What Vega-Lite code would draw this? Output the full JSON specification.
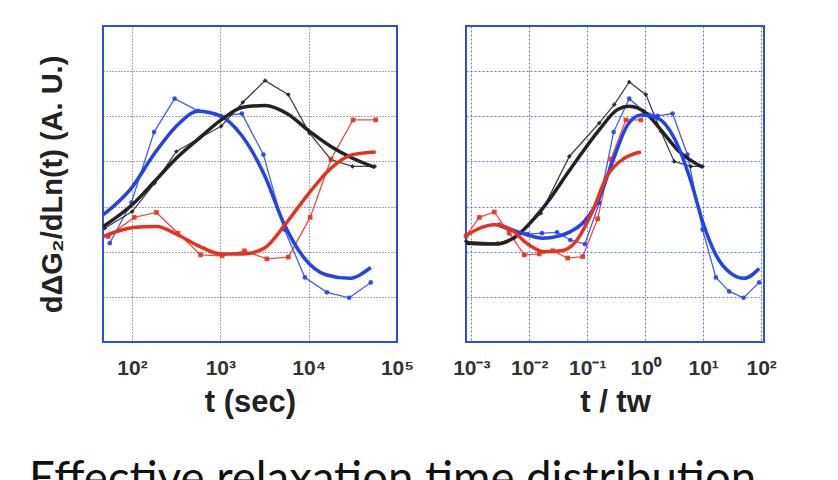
{
  "$schema": "https://vega.github.io/schema/vega-lite/v6.json",
  "background": "white",
  "padding": {"left": 29, "top": 25, "right": 0, "bottom": 0},
  "bounds": "flush",
  "spacing": 69,
  "config": {
    "view": {"stroke": "#2f4ee6", "strokeWidth": 2},
    "font": "Liberation Sans",
    "axis": {"labelFont": "Liberation Sans", "titleFont": "Liberation Sans"}
  },
  "title": {
    "text": "Effective relaxation time distribution",
    "orient": "bottom",
    "anchor": "start",
    "font": "Lato",
    "fontSize": 45.5,
    "fontWeight": "normal",
    "color": "#111111",
    "offset": 40,
    "dx": -8
  },
  "datasets": {
    "left": [
      {"s": "A", "c": "data", "t": 56.1, "v": 2.19},
      {"s": "A", "c": "data", "t": 98.6, "v": 3.09},
      {"s": "A", "c": "data", "t": 177.8, "v": 4.65},
      {"s": "A", "c": "data", "t": 304, "v": 5.39},
      {"s": "A", "c": "data", "t": 558, "v": 5.12},
      {"s": "A", "c": "data", "t": 1023, "v": 5.0},
      {"s": "A", "c": "data", "t": 1754, "v": 5.06},
      {"s": "A", "c": "data", "t": 3076, "v": 4.15},
      {"s": "A", "c": "data", "t": 5309, "v": 2.49},
      {"s": "A", "c": "data", "t": 9078, "v": 1.43},
      {"s": "A", "c": "data", "t": 16106, "v": 1.1},
      {"s": "A", "c": "data", "t": 28708, "v": 0.98},
      {"s": "A", "c": "data", "t": 50466, "v": 1.32},
      {"s": "A", "c": "fit", "t": 47.5, "v": 2.82},
      {"s": "A", "c": "fit", "t": 98.6, "v": 3.41},
      {"s": "A", "c": "fit", "t": 180.7, "v": 4.18},
      {"s": "A", "c": "fit", "t": 317.7, "v": 4.78},
      {"s": "A", "c": "fit", "t": 558, "v": 5.11},
      {"s": "A", "c": "fit", "t": 1023, "v": 5.0},
      {"s": "A", "c": "fit", "t": 1722, "v": 4.59},
      {"s": "A", "c": "fit", "t": 3155, "v": 3.7},
      {"s": "A", "c": "fit", "t": 5309, "v": 2.6},
      {"s": "A", "c": "fit", "t": 8913, "v": 1.86},
      {"s": "A", "c": "fit", "t": 15668, "v": 1.49},
      {"s": "A", "c": "fit", "t": 28708, "v": 1.41},
      {"s": "A", "c": "fit", "t": 50466, "v": 1.65},
      {"s": "C", "c": "data", "t": 49.3, "v": 2.52},
      {"s": "C", "c": "data", "t": 100.5, "v": 2.89},
      {"s": "C", "c": "data", "t": 180.7, "v": 3.52},
      {"s": "C", "c": "data", "t": 317.7, "v": 4.22},
      {"s": "C", "c": "data", "t": 582, "v": 4.52},
      {"s": "C", "c": "data", "t": 1023, "v": 4.78},
      {"s": "C", "c": "data", "t": 1799, "v": 5.31},
      {"s": "C", "c": "data", "t": 3214, "v": 5.79},
      {"s": "C", "c": "data", "t": 5888, "v": 5.48},
      {"s": "C", "c": "data", "t": 10160, "v": 4.63},
      {"s": "C", "c": "data", "t": 17865, "v": 4.04},
      {"s": "C", "c": "data", "t": 31405, "v": 3.89},
      {"s": "C", "c": "data", "t": 55975, "v": 3.89},
      {"s": "C", "c": "fit", "t": 47.5, "v": 2.56},
      {"s": "C", "c": "fit", "t": 100.5, "v": 3.04},
      {"s": "C", "c": "fit", "t": 180.7, "v": 3.56},
      {"s": "C", "c": "fit", "t": 317.7, "v": 4.07},
      {"s": "C", "c": "fit", "t": 567, "v": 4.5},
      {"s": "C", "c": "fit", "t": 1023, "v": 4.92},
      {"s": "C", "c": "fit", "t": 1799, "v": 5.2},
      {"s": "C", "c": "fit", "t": 3214, "v": 5.24},
      {"s": "C", "c": "fit", "t": 5794, "v": 5.05},
      {"s": "C", "c": "fit", "t": 10160, "v": 4.67},
      {"s": "C", "c": "fit", "t": 17865, "v": 4.33},
      {"s": "C", "c": "fit", "t": 31405, "v": 4.07},
      {"s": "C", "c": "fit", "t": 55975, "v": 3.87},
      {"s": "B", "c": "data", "t": 53.8, "v": 2.34},
      {"s": "B", "c": "data", "t": 106, "v": 2.76},
      {"s": "B", "c": "data", "t": 189, "v": 2.87},
      {"s": "B", "c": "data", "t": 332, "v": 2.41},
      {"s": "B", "c": "data", "t": 598, "v": 1.93},
      {"s": "B", "c": "data", "t": 1050, "v": 1.91},
      {"s": "B", "c": "data", "t": 1875, "v": 2.02},
      {"s": "B", "c": "data", "t": 3360, "v": 1.84},
      {"s": "B", "c": "data", "t": 5890, "v": 1.88},
      {"s": "B", "c": "data", "t": 10400, "v": 2.76},
      {"s": "B", "c": "data", "t": 17900, "v": 4.05},
      {"s": "B", "c": "data", "t": 31800, "v": 4.92},
      {"s": "B", "c": "data", "t": 57400, "v": 4.92},
      {"s": "B", "c": "fit", "t": 47.5, "v": 2.34},
      {"s": "B", "c": "fit", "t": 107.6, "v": 2.54},
      {"s": "B", "c": "fit", "t": 189, "v": 2.56},
      {"s": "B", "c": "fit", "t": 332, "v": 2.37},
      {"s": "B", "c": "fit", "t": 582, "v": 2.12},
      {"s": "B", "c": "fit", "t": 1023, "v": 1.95},
      {"s": "B", "c": "fit", "t": 1799, "v": 1.95},
      {"s": "B", "c": "fit", "t": 3155, "v": 2.08},
      {"s": "B", "c": "fit", "t": 5546, "v": 2.63},
      {"s": "B", "c": "fit", "t": 9750, "v": 3.26},
      {"s": "B", "c": "fit", "t": 17865, "v": 3.85},
      {"s": "B", "c": "fit", "t": 31405, "v": 4.15},
      {"s": "B", "c": "fit", "t": 57410, "v": 4.21}
    ],
    "right": [
      {"s": "C", "c": "data", "t": 0.000813, "v": 2.23},
      {"s": "C", "c": "data", "t": 0.00285, "v": 2.19},
      {"s": "C", "c": "data", "t": 0.0055, "v": 2.3},
      {"s": "C", "c": "data", "t": 0.01585, "v": 2.85},
      {"s": "C", "c": "data", "t": 0.049, "v": 4.11},
      {"s": "C", "c": "data", "t": 0.161, "v": 4.85},
      {"s": "C", "c": "data", "t": 0.292, "v": 5.26},
      {"s": "C", "c": "data", "t": 0.53, "v": 5.76},
      {"s": "C", "c": "data", "t": 1.028, "v": 5.48},
      {"s": "C", "c": "data", "t": 1.862, "v": 4.67},
      {"s": "C", "c": "data", "t": 3.162, "v": 4.0},
      {"s": "C", "c": "data", "t": 6.14, "v": 3.89},
      {"s": "C", "c": "data", "t": 9.77, "v": 3.89},
      {"s": "C", "c": "fit", "t": 0.000813, "v": 2.19},
      {"s": "C", "c": "fit", "t": 0.00285, "v": 2.17},
      {"s": "C", "c": "fit", "t": 0.00589, "v": 2.34},
      {"s": "C", "c": "fit", "t": 0.017, "v": 2.96},
      {"s": "C", "c": "fit", "t": 0.0525, "v": 3.85},
      {"s": "C", "c": "fit", "t": 0.161, "v": 4.7},
      {"s": "C", "c": "fit", "t": 0.334, "v": 5.15},
      {"s": "C", "c": "fit", "t": 0.53, "v": 5.22},
      {"s": "C", "c": "fit", "t": 1.028, "v": 5.07},
      {"s": "C", "c": "fit", "t": 1.862, "v": 4.7},
      {"s": "C", "c": "fit", "t": 3.855, "v": 4.22},
      {"s": "C", "c": "fit", "t": 9.77, "v": 3.87},
      {"s": "A", "c": "data", "t": 0.00304, "v": 2.6},
      {"s": "A", "c": "data", "t": 0.00938, "v": 2.39},
      {"s": "A", "c": "data", "t": 0.01656, "v": 2.41},
      {"s": "A", "c": "data", "t": 0.0301, "v": 2.43},
      {"s": "A", "c": "data", "t": 0.0509, "v": 2.26},
      {"s": "A", "c": "data", "t": 0.0912, "v": 2.17},
      {"s": "A", "c": "data", "t": 0.161, "v": 3.08},
      {"s": "A", "c": "data", "t": 0.285, "v": 4.65},
      {"s": "A", "c": "data", "t": 0.53, "v": 5.39},
      {"s": "A", "c": "data", "t": 0.938, "v": 5.11},
      {"s": "A", "c": "data", "t": 1.637, "v": 5.01},
      {"s": "A", "c": "data", "t": 2.965, "v": 5.06},
      {"s": "A", "c": "data", "t": 5.35, "v": 4.15},
      {"s": "A", "c": "data", "t": 9.77, "v": 2.49},
      {"s": "A", "c": "data", "t": 16.56, "v": 1.43},
      {"s": "A", "c": "data", "t": 28.05, "v": 1.12},
      {"s": "A", "c": "data", "t": 49.8, "v": 0.98},
      {"s": "A", "c": "data", "t": 92.5, "v": 1.32},
      {"s": "A", "c": "fit", "t": 0.00304, "v": 2.58},
      {"s": "A", "c": "fit", "t": 0.00938, "v": 2.37},
      {"s": "A", "c": "fit", "t": 0.017, "v": 2.3},
      {"s": "A", "c": "fit", "t": 0.0309, "v": 2.34},
      {"s": "A", "c": "fit", "t": 0.0524, "v": 2.45},
      {"s": "A", "c": "fit", "t": 0.0887, "v": 2.67},
      {"s": "A", "c": "fit", "t": 0.161, "v": 3.19},
      {"s": "A", "c": "fit", "t": 0.274, "v": 4.0},
      {"s": "A", "c": "fit", "t": 0.498, "v": 4.81},
      {"s": "A", "c": "fit", "t": 0.843, "v": 5.03},
      {"s": "A", "c": "fit", "t": 1.637, "v": 4.96},
      {"s": "A", "c": "fit", "t": 3.162, "v": 4.52},
      {"s": "A", "c": "fit", "t": 6.14, "v": 3.56},
      {"s": "A", "c": "fit", "t": 9.77, "v": 2.67},
      {"s": "A", "c": "fit", "t": 16.56, "v": 1.93},
      {"s": "A", "c": "fit", "t": 30.06, "v": 1.52},
      {"s": "A", "c": "fit", "t": 50.9, "v": 1.41},
      {"s": "A", "c": "fit", "t": 92.5, "v": 1.63},
      {"s": "B", "c": "data", "t": 0.000813, "v": 2.35},
      {"s": "B", "c": "data", "t": 0.001374, "v": 2.76},
      {"s": "B", "c": "data", "t": 0.00249, "v": 2.88},
      {"s": "B", "c": "data", "t": 0.00452, "v": 2.41},
      {"s": "B", "c": "data", "t": 0.0082, "v": 1.93},
      {"s": "B", "c": "data", "t": 0.01486, "v": 1.95},
      {"s": "B", "c": "data", "t": 0.0253, "v": 2.02},
      {"s": "B", "c": "data", "t": 0.0459, "v": 1.86},
      {"s": "B", "c": "data", "t": 0.0834, "v": 1.89},
      {"s": "B", "c": "data", "t": 0.151, "v": 2.73},
      {"s": "B", "c": "data", "t": 0.2564, "v": 4.05},
      {"s": "B", "c": "data", "t": 0.4645, "v": 4.92},
      {"s": "B", "c": "data", "t": 0.843, "v": 4.92},
      {"s": "B", "c": "fit", "t": 0.000813, "v": 2.36},
      {"s": "B", "c": "fit", "t": 0.00249, "v": 2.6},
      {"s": "B", "c": "fit", "t": 0.00483, "v": 2.49},
      {"s": "B", "c": "fit", "t": 0.00938, "v": 2.17},
      {"s": "B", "c": "fit", "t": 0.01816, "v": 2.0},
      {"s": "B", "c": "fit", "t": 0.0352, "v": 2.02},
      {"s": "B", "c": "fit", "t": 0.0638, "v": 2.23},
      {"s": "B", "c": "fit", "t": 0.1159, "v": 2.82},
      {"s": "B", "c": "fit", "t": 0.2249, "v": 3.7},
      {"s": "B", "c": "fit", "t": 0.4345, "v": 4.07},
      {"s": "B", "c": "fit", "t": 0.843, "v": 4.21}
    ]
  },
  "hconcat": [
    {
      "width": 294,
      "height": 316,
      "data": {"name": "left"},
      "encoding": {
        "x": {
          "field": "t", "type": "quantitative",
          "scale": {"type": "log", "domain": [47, 100000]},
          "axis": {
            "values": [100, 1000, 10000, 100000],
            "labelExpr": "datum.value < 500 ? '10²' : datum.value < 5000 ? '10³' : datum.value < 50000 ? '10⁴' : '10⁵'",
            "title": "t (sec)",
            "grid": true, "gridColor": "#333333", "gridDash": [1, 2], "gridOpacity": 0.85,
            "ticks": false, "domain": false,
            "labelFontSize": 21, "labelFontWeight": "bold", "labelColor": "#333333", "labelPadding": 15,
            "labelFlush": false,
            "titleFontSize": 31, "titleFontWeight": "bold", "titleColor": "#222222", "titlePadding": 9
          }
        },
        "y": {
          "field": "v", "type": "quantitative",
          "scale": {"domain": [0, 7]},
          "axis": {
            "values": [1, 2, 3, 4, 5, 6],
            "labels": false, "ticks": false, "domain": false,
            "grid": true, "gridColor": "#333333", "gridDash": [1, 2], "gridOpacity": 0.85,
            "title": "dΔG₂/dLn(t) (A. U.)",
            "titleFontSize": 29, "titleFontWeight": "bold", "titleColor": "#222222", "titlePadding": 36
          }
        },
        "color": {"field": "s", "type": "nominal", "scale": {"domain": ["A", "B", "C"], "range": ["#2243ec", "#e8301f", "#222222"]}, "legend": null}
      },
      "layer": [
        {"transform": [{"filter": "datum.c == 'data'"}], "mark": {"type": "line", "strokeWidth": 1.3, "opacity": 0.85}},
        {"transform": [{"filter": "datum.c == 'data'"}], "mark": {"type": "point", "filled": true, "size": 22, "opacity": 0.9},
         "encoding": {"shape": {"field": "s", "type": "nominal", "scale": {"domain": ["A", "B", "C"], "range": ["circle", "square", "diamond"]}, "legend": null}}},
        {"transform": [{"filter": "datum.c == 'fit'"}], "mark": {"type": "line", "strokeWidth": 3.5, "interpolate": "monotone"}}
      ]
    },
    {
      "width": 298,
      "height": 316,
      "data": {"name": "right"},
      "encoding": {
        "x": {
          "field": "t", "type": "quantitative",
          "scale": {"type": "log", "domain": [0.00081, 112]},
          "axis": {
            "values": [0.001, 0.01, 0.1, 1, 10, 100],
            "labelExpr": "datum.value < 0.005 ? '10⁻³' : datum.value < 0.05 ? '10⁻²' : datum.value < 0.5 ? '10⁻¹' : datum.value < 5 ? '10⁰' : datum.value < 50 ? '10¹' : '10²'",
            "title": "t / tw",
            "grid": true, "gridColor": "#3a55ee", "gridDash": [2, 2], "gridOpacity": 0.8,
            "ticks": false, "domain": false,
            "labelFontSize": 21, "labelFontWeight": "bold", "labelColor": "#333333", "labelPadding": 15,
            "labelFlush": false,
            "titleFontSize": 31, "titleFontWeight": "bold", "titleColor": "#222222", "titlePadding": 9
          }
        },
        "y": {
          "field": "v", "type": "quantitative",
          "scale": {"domain": [0, 7]},
          "axis": {
            "values": [1, 2, 3, 4, 5, 6],
            "labels": false, "ticks": false, "domain": false,
            "grid": true, "gridColor": "#3a55ee", "gridDash": [2, 2], "gridOpacity": 0.8,
            "title": null
          }
        },
        "color": {"field": "s", "type": "nominal", "scale": {"domain": ["A", "B", "C"], "range": ["#2243ec", "#e8301f", "#222222"]}, "legend": null}
      },
      "layer": [
        {"transform": [{"filter": "datum.c == 'data'"}], "mark": {"type": "line", "strokeWidth": 1.3, "opacity": 0.85}},
        {"transform": [{"filter": "datum.c == 'data'"}], "mark": {"type": "point", "filled": true, "size": 22, "opacity": 0.9},
         "encoding": {"shape": {"field": "s", "type": "nominal", "scale": {"domain": ["A", "B", "C"], "range": ["circle", "square", "diamond"]}, "legend": null}}},
        {"transform": [{"filter": "datum.c == 'fit'"}], "mark": {"type": "line", "strokeWidth": 3.5, "interpolate": "monotone"}}
      ]
    }
  ]
}
